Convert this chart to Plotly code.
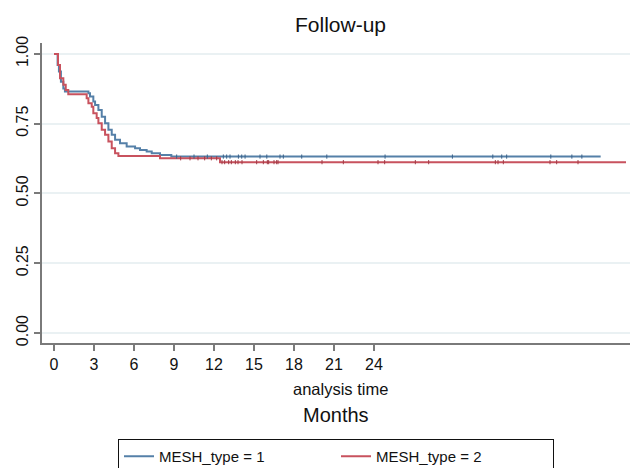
import numpy as np
import plotly.graph_objects as go

# Kaplan-Meier step data (months, survival)
t1 = [0, 0.27, 0.37, 0.52, 0.70, 0.82, 2.58, 2.70, 2.95, 3.08, 3.33, 3.58, 3.83, 4.08,
      4.33, 4.58, 4.95, 5.45, 6.08, 6.45, 6.95, 7.33, 7.95, 8.80, 41.0]
s1 = [1.0, 0.96, 0.937, 0.90, 0.876, 0.865, 0.859, 0.847, 0.829, 0.817, 0.799, 0.775, 0.751, 0.728,
      0.710, 0.692, 0.680, 0.668, 0.662, 0.656, 0.650, 0.644, 0.638, 0.632, 0.632]
t2 = [0, 0.30, 0.45, 0.70, 0.88, 1.07, 2.45, 2.58, 2.83, 2.95, 3.20, 3.33, 3.58, 3.83,
      4.08, 4.33, 4.58, 4.83, 7.95, 12.45, 42.9]
s2 = [1.0, 0.96, 0.913, 0.889, 0.871, 0.855, 0.841, 0.823, 0.811, 0.787, 0.770, 0.751, 0.728, 0.710,
      0.686, 0.662, 0.644, 0.634, 0.626, 0.612, 0.612]

# censoring times
c1 = [9.2, 10.5, 11.5, 12.7, 12.95, 13.2, 13.83, 14.08, 14.33, 15.45, 15.96, 16.95, 17.2, 18.58,
      20.46, 24.83, 29.88, 32.91, 33.58, 33.95, 37.26, 38.84, 39.59]
c2 = [9.5, 10.2, 10.8, 11.3, 11.8, 12.2, 12.6, 12.8, 13.1, 13.3, 13.6, 13.8, 14.1, 15.2, 15.7,
      16.0, 16.1, 16.5, 16.7, 16.8, 20.1, 21.7, 24.3, 24.8, 27.1, 28.1, 33.1, 33.3, 33.7,
      37.2, 37.7, 39.3]

xticks = [0, 3, 6, 9, 12, 15, 18, 21, 24]
yticks = [0, 0.25, 0.5, 0.75, 1.0]
names = ["MESH_type = 1", "MESH_type = 2"]

BLUE = "#5580a8"
RED = "#c8525e"
FONT = "Liberation Sans"


def step_at(ts, ss, c):
    idx = np.searchsorted(np.array(ts), np.array(c), side="right") - 1
    return [ss[i] for i in idx]


fig = go.Figure()
fig.add_trace(go.Scatter(x=t1, y=s1, mode="lines", line=dict(color=BLUE, width=2, shape="hv"),
                         name=names[0]))
fig.add_trace(go.Scatter(x=t2, y=s2, mode="lines", line=dict(color=RED, width=2, shape="hv"),
                         name=names[1]))
fig.add_trace(go.Scatter(x=c1, y=step_at(t1, s1, c1), mode="markers", showlegend=False,
                         marker=dict(symbol="line-ns", size=3, line=dict(color="#3a628a", width=1))))
fig.add_trace(go.Scatter(x=c2, y=step_at(t2, s2, c2), mode="markers", showlegend=False,
                         marker=dict(symbol="line-ns", size=3, line=dict(color="#a03a45", width=1))))

fig.update_layout(
    width=630, height=468,
    margin=dict(l=42, r=0, t=43, b=125, autoexpand=False),
    paper_bgcolor="white", plot_bgcolor="white",
    font=dict(family=FONT, color="#111"),
    showlegend=True,
    legend=dict(orientation="h", x=0.5, xanchor="center", y=-0.32, yanchor="top",
                bordercolor="#111", borderwidth=1, font=dict(size=15, family=FONT, color="#111"),
                entrywidth=172, entrywidthmode="pixels", bgcolor="white"),
    annotations=[
        dict(text="Follow-up", x=0.507, xref="paper", y=1.063, yref="paper", showarrow=False,
             yanchor="middle", font=dict(size=21, family=FONT, color="#111")),
        dict(text="analysis time", x=0.507, xref="paper", y=-0.153, yref="paper", showarrow=False,
             yanchor="middle", font=dict(size=16.5, family=FONT, color="#111")),
        dict(text="Months", x=0.50, xref="paper", y=-0.24, yref="paper", showarrow=False,
             yanchor="middle", font=dict(size=20, family=FONT, color="#111")),
    ],
)

fig.update_xaxes(range=[-0.9, 43.2], tickvals=xticks, ticktext=[str(v) for v in xticks],
                 showgrid=False, zeroline=False, showline=True, linecolor="#7a7a7a", linewidth=2,
                 ticks="outside", ticklen=6, tickcolor="#7a7a7a", tickwidth=2, automargin=False,
                 tickfont=dict(size=16, family=FONT, color="#111"))
fig.update_yaxes(range=[-0.036, 1.039], tickvals=yticks, tickformat=".2f",
                 showgrid=True, gridcolor="#eaf1f3", gridwidth=1.5, zeroline=False,
                 showline=True, linecolor="#7a7a7a", linewidth=2, automargin=False,
                 ticks="outside", ticklen=6, tickcolor="#7a7a7a", tickwidth=2, tickangle=-90,
                 tickfont=dict(size=16, family=FONT, color="#111"))

fig.write_html("out.html", config={"displayModeBar": False},
               post_script="document.body.style.margin='0px';")
